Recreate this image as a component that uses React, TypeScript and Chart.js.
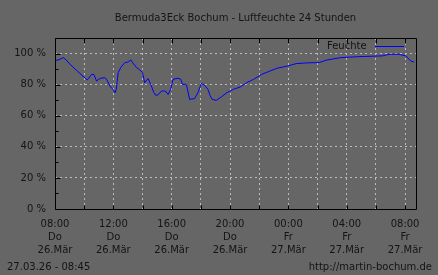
import React, { useEffect, useRef } from "react";
import { Chart, registerables } from "chart.js";
Chart.register(...registerables);

// hours after Thu 26.03 08:00
const hours = [0, 0.27, 0.57, 0.75, 1.03, 1.48, 1.85, 2.21, 2.51, 2.67, 2.85, 3.08, 3.42, 3.56, 3.76, 3.97, 4.12, 4.2, 4.33, 4.51, 4.79, 5.0, 5.2, 5.33, 5.59, 5.81, 6.0, 6.15, 6.38, 6.61, 6.77, 6.91, 7.08, 7.3, 7.57, 7.75, 7.93, 8.09, 8.43, 8.62, 8.73, 9.0, 9.13, 9.23, 9.57, 9.8, 10.03, 10.26, 10.48, 10.63, 10.78, 11.06, 11.33, 11.78, 12.24, 12.7, 13.15, 13.61, 14.17, 14.75, 15.2, 15.66, 15.95, 16.53, 17.3, 18.12, 18.58, 19.6, 20.85, 22.45, 22.9, 23.59, 24.05, 24.39, 24.62];
const humidity = [95.5, 96, 97.4, 96, 93.1, 89.2, 86, 83, 86.6, 86.5, 82.3, 84, 84.5, 83, 79.1, 77, 74.8, 77, 87.7, 91, 94.2, 94.5, 95.9, 94, 91, 89.5, 87.7, 81.3, 83.9, 79.1, 75, 73.1, 73.5, 75.9, 75.9, 73.7, 77, 83.4, 84.1, 83.5, 80.2, 80.2, 75, 70.5, 71, 74.8, 80.8, 79.5, 77, 73, 70.5, 69.9, 71.6, 74.8, 77, 78.5, 81.3, 83.4, 86.6, 88.8, 90.5, 91.4, 92, 93.5, 94, 94.2, 95.7, 97.4, 98, 98.5, 99.5, 99.5, 98.5, 95.2, 94.6];

const tickTimes = ["08:00", "12:00", "16:00", "20:00", "00:00", "04:00", "08:00"];
const tickDays = ["Do", "Do", "Do", "Do", "Fr", "Fr", "Fr"];
const tickDates = ["26.Mär", "26.Mär", "26.Mär", "26.Mär", "27.Mär", "27.Mär", "27.Mär"];
const yTicks = [0, 20, 40, 60, 80, 100];

const titleText = "Bermuda3Eck Bochum - Luftfeuchte 24 Stunden";
const legendText = "Feuchte";
const stampText = "27.03.26 - 08:45";
const urlText = "http://martin-bochum.de";

const FONT = "DejaVu Sans";
const TEXT = "#141414";
const BG = "#666666";
const GRID = "#bcbcbc";

const decor = {
  id: "decor",
  beforeDraw(chart: any) {
    const ctx = chart.ctx;
    ctx.save();
    ctx.fillStyle = BG;
    ctx.fillRect(0, 0, chart.width, chart.height);
    ctx.restore();
  },
  afterDraw(chart: any) {
    const ctx = chart.ctx;
    const a = chart.chartArea;
    const xs = chart.scales.x;
    const ys = chart.scales.y;
    const L = Math.round(a.left) + 0.5;
    const R = Math.round(a.right) + 0.5;
    const T = Math.round(a.top) + 0.5;
    const B = Math.round(a.bottom) + 0.5;
    ctx.save();
    ctx.strokeStyle = "#000";
    ctx.lineWidth = 1;
    ctx.beginPath();
    ctx.moveTo(L, T); ctx.lineTo(R, T); ctx.lineTo(R, B); ctx.lineTo(L, B); ctx.closePath();
    ctx.stroke();
    ctx.beginPath();
    for (let h = 0; h <= 24; h += 2) {
      const x = Math.round(xs.getPixelForValue(h)) + 0.5;
      ctx.moveTo(x, B); ctx.lineTo(x, B - 4);
      ctx.moveTo(x, T); ctx.lineTo(x, T + 5);
    }
    for (let v = 10; v <= 110; v += 10) {
      const y = Math.round(ys.getPixelForValue(v)) + 0.5;
      ctx.moveTo(L, y); ctx.lineTo(L + (v % 20 === 0 ? 5 : 3), y);
    }
    ctx.stroke();

    ctx.fillStyle = TEXT;
    ctx.font = `10px "${FONT}"`;
    ctx.textBaseline = "middle";
    ctx.textAlign = "center";
    ctx.fillText(titleText, (a.left + a.right) / 2, 18.5);

    ctx.textAlign = "left";
    ctx.fillText(legendText, 327, 46);
    ctx.strokeStyle = "#0000ff";
    ctx.beginPath();
    ctx.moveTo(375, 46.5); ctx.lineTo(404, 46.5);
    ctx.stroke();

    ctx.fillStyle = TEXT;
    ctx.fillText(stampText, 7, 267);
    ctx.textAlign = "right";
    ctx.fillText(urlText, 432, 267);
    ctx.restore();
  },
};

export default function App() {
  const ref = useRef<HTMLCanvasElement>(null);
  useEffect(() => {
    const canvas = ref.current!;
    const chart = new Chart(canvas, {
      type: "line",
      data: {
        datasets: [
          {
            label: legendText,
            data: hours.map((h, i) => ({ x: h, y: humidity[i] })),
            borderColor: "#0000ff",
            borderWidth: 1,
            pointRadius: 0,
            tension: 0,
            fill: false,
          },
        ],
      },
      options: {
        animation: false,
        responsive: false,
        devicePixelRatio: 1,
        layout: { padding: { left: 0, right: 22, top: 38, bottom: 0 } },
        plugins: { legend: { display: false }, title: { display: false }, tooltip: { enabled: false } },
        scales: {
          x: {
            type: "linear",
            min: 0,
            max: 24.75,
            afterBuildTicks: (s: any) => {
              const t = [];
              for (let h = 0; h <= 24; h += 2) t.push({ value: h });
              s.ticks = t;
            },
            afterFit: (s: any) => { s.height = 66; },
            border: { display: false, dash: [2, 3] },
            grid: { color: GRID, lineWidth: 1, drawTicks: false },
            ticks: {
              autoSkip: false,
              maxRotation: 0,
              padding: 9,
              color: TEXT,
              font: { family: FONT, size: 10, lineHeight: 1.3 },
              callback: (v: any) => {
                if (v % 4 !== 0) return "";
                const i = v / 4;
                return [tickTimes[i], tickDays[i], tickDates[i]];
              },
            },
          },
          y: {
            min: 0,
            max: 110,
            afterBuildTicks: (s: any) => { s.ticks = yTicks.map((v) => ({ value: v })); },
            afterFit: (s: any) => { s.width = 55; },
            border: { display: false, dash: [2, 3] },
            grid: { color: (c: any) => (c.tick && c.tick.value === 0 ? "rgba(0,0,0,0)" : GRID), lineWidth: 1, drawTicks: false },
            ticks: {
              padding: 9,
              color: TEXT,
              font: { family: FONT, size: 10 },
              callback: (v: any) => `${v} %`,
            },
          },
        },
      },
      plugins: [decor],
    } as any);
    return () => chart.destroy();
  }, []);
  return (
    <div style={{ position: "absolute", left: 0, top: 0, width: 438, height: 275, background: BG }}>
      <canvas ref={ref} width={438} height={275} style={{ display: "block" }} />
    </div>
  );
}
